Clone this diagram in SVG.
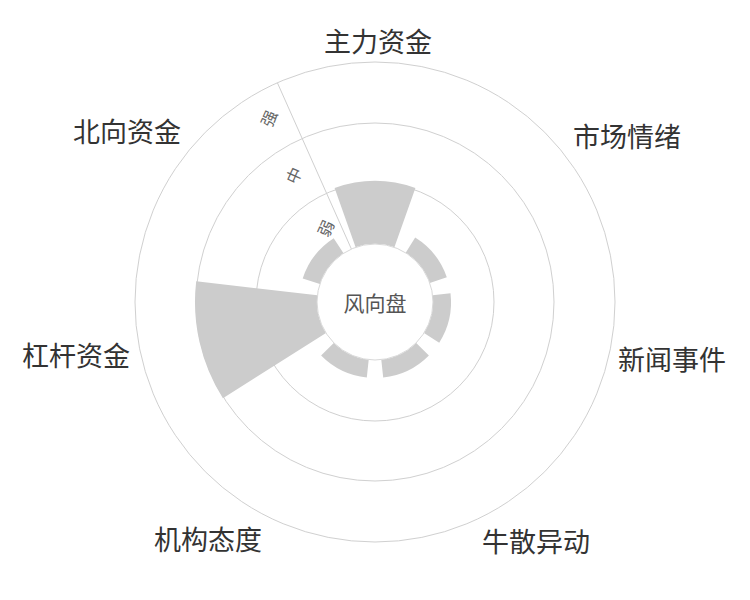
<svg xmlns="http://www.w3.org/2000/svg" width="750" height="600" viewBox="0 0 750 600">
<style>
.ring{fill:none;stroke:#d0d0d0;stroke-width:1}
.bar{fill:#cccccc}
.cat{font-family:"Noto Sans CJK SC","Noto Sans",sans-serif;font-size:27px;fill:#333;text-anchor:middle;dominant-baseline:central}
.rad{font-family:"Noto Sans CJK SC","Noto Sans",sans-serif;font-size:16px;fill:#666;text-anchor:middle;dominant-baseline:central}
</style>
<rect width="750" height="600" fill="#fff"/>
<g id="grid">
<circle class="ring" cx="375" cy="302" r="240"/>
<circle class="ring" cx="375" cy="302" r="179"/>
<circle class="ring" cx="375" cy="302" r="119"/>
<line x1="351.4" y1="249" x2="277.4" y2="82.8" stroke="#d0d0d0"/>
</g>
<g id="bars">
<path class="bar" d="M334.6,187.9 A121,121 0 0 1 415.4,187.9 L394.4,247.3 A58,58 0 0 0 355.6,247.3 Z"/>
<path class="bar" d="M222.9,398.3 A180,180 0 0 1 196.2,281.2 L317.4,295.3 A58,58 0 0 0 326,333 Z"/>
<path class="bar" d="M415.2,237.5 A76,76 0 0 1 446.8,277.2 L429.8,283.1 A58,58 0 0 0 405.7,252.8 Z"/>
<path class="bar" d="M450.5,293.2 A76,76 0 0 1 439.2,342.7 L424,333 A58,58 0 0 0 432.6,295.3 Z"/>
<path class="bar" d="M428.9,355.5 A76,76 0 0 1 383.2,377.6 L381.3,359.7 A58,58 0 0 0 416.2,342.9 Z"/>
<path class="bar" d="M366.8,377.6 A76,76 0 0 1 321.1,355.5 L333.8,342.9 A58,58 0 0 0 368.7,359.7 Z"/>
<path class="bar" d="M302.7,278.4 A76,76 0 0 1 333.7,238.2 L343.5,253.3 A58,58 0 0 0 319.9,284 Z"/>
</g>
<g id="center">
<circle cx="375" cy="302" r="58" fill="#fff" stroke="#d8d8d8"/>
<text x="375" y="302" style="font-family:'Noto Sans CJK SC',sans-serif;font-size:21px;fill:#555;text-anchor:middle;dominant-baseline:central">风向盘</text>
</g>
<g id="radial-labels">
<text class="rad" transform="translate(325,228) rotate(-66)">弱</text>
<text class="rad" transform="translate(293,175) rotate(-66)">中</text>
<text class="rad" transform="translate(268,118) rotate(-66)">强</text>
</g>
<g id="categories">
<text class="cat" x="378" y="40">主力资金</text>
<text class="cat" x="627" y="135">市场情绪</text>
<text class="cat" x="672" y="358">新闻事件</text>
<text class="cat" x="536" y="540">牛散异动</text>
<text class="cat" x="208" y="538">机构态度</text>
<text class="cat" x="76" y="354">杠杆资金</text>
<text class="cat" x="127" y="130">北向资金</text>
</g>
</svg>
